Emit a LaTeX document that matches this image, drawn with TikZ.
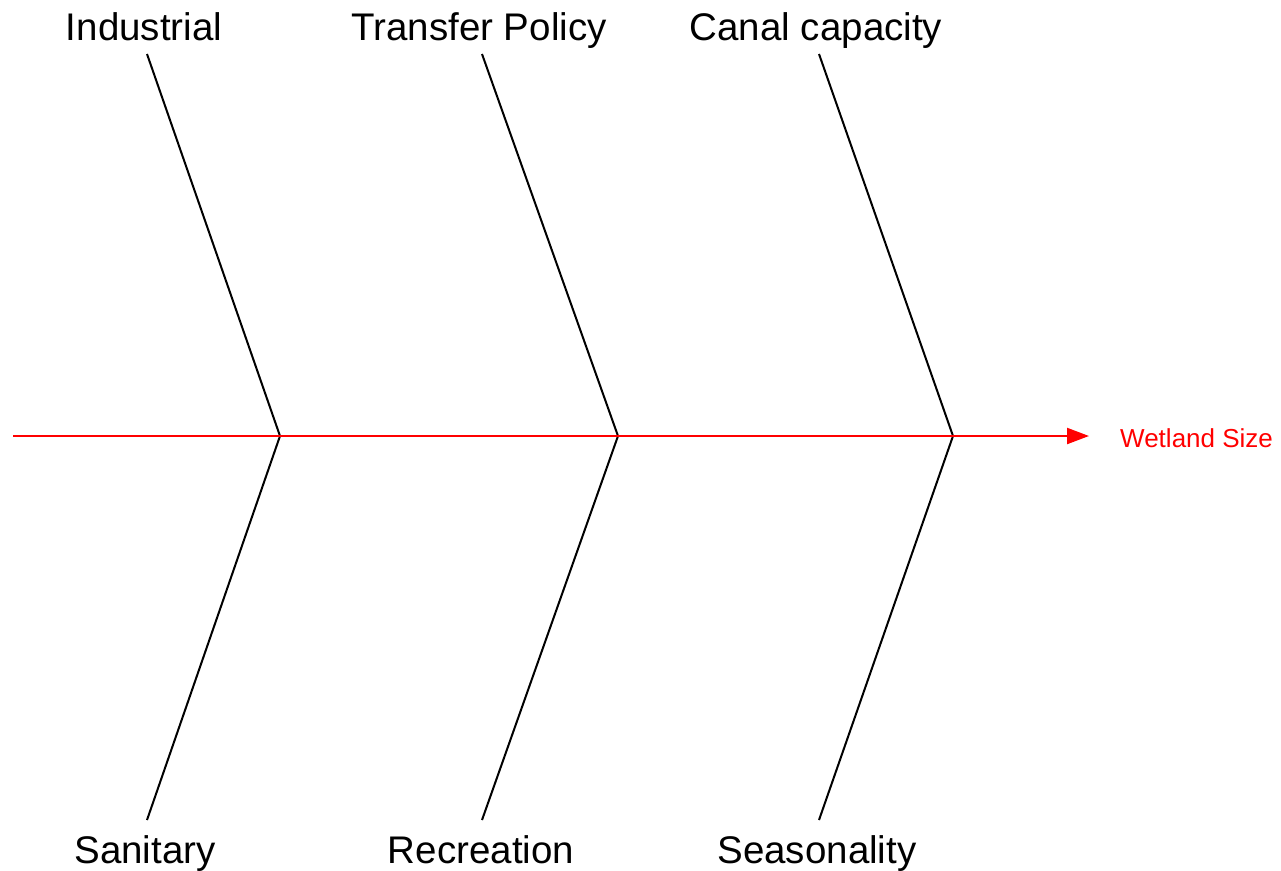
\documentclass[tikz,border=0pt]{standalone}
\usepackage{fontspec}
\setmainfont{Liberation Sans}
\usetikzlibrary{arrows.meta}
\begin{document}
\begin{tikzpicture}[x=1pt,y=-1pt,
  bone/.style={draw=black,line width=2pt},
  spine/.style={draw=red,line width=2.2pt,-{Triangle[length=22pt,width=16pt]}},
  cause/.style={font=\fontsize{38.5}{42}\selectfont,inner sep=0pt,anchor=base},
  effect/.style={font=\fontsize{26}{30}\selectfont,text=red,inner sep=0pt,anchor=base west}]
\useasboundingbox (0,0) rectangle (1281,870);
% joints
\coordinate (j1) at (280,436);
\coordinate (j2) at (618,436);
\coordinate (j3) at (953,436);
\coordinate (start) at (13,436);
\coordinate (tip) at (1089,436);
% bone ends
\coordinate (t1) at (147,54);
\coordinate (t2) at (482,54);
\coordinate (t3) at (819,54);
\coordinate (b1) at (147,820);
\coordinate (b2) at (482,820);
\coordinate (b3) at (819,820);
% labels
\node[cause] (industrial) at (144,40) {Industrial};
\node[cause] (transfer) at (479,40) {Transfer Policy};
\node[cause] (canal) at (816,40) {Canal capacity};
\node[cause] (sanitary) at (145,863) {Sanitary};
\node[cause] (recreation) at (481,863) {Recreation};
\node[cause] (season) at (817,863) {Seasonality};
\node[effect] (wetland) at (1120,447) {Wetland Size};
% bones
\draw[bone] (t1) -- (j1) -- (b1);
\draw[bone] (t2) -- (j2) -- (b2);
\draw[bone] (t3) -- (j3) -- (b3);
% spine
\draw[spine] (start) -- (tip);
\end{tikzpicture}
\end{document}
